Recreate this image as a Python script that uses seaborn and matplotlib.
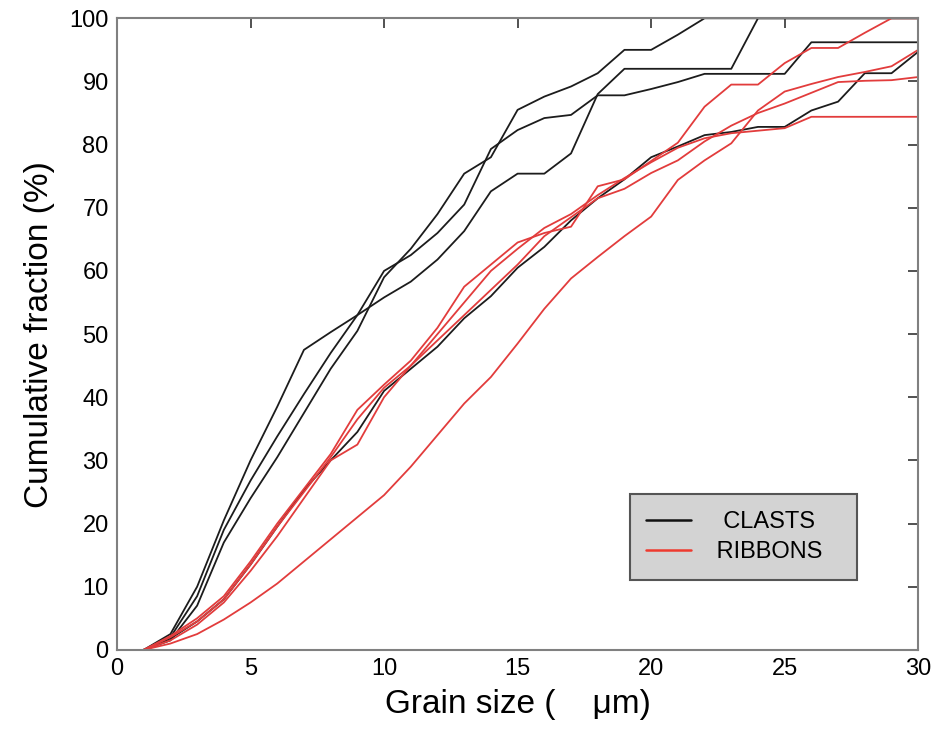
import numpy as np
import pandas as pd
import matplotlib
matplotlib.use("Agg")
import matplotlib.pyplot as plt
import seaborn as sns
from matplotlib.lines import Line2D

# ---- data ----
grain_size = list(range(1, 31))

clast_a = [0, 2.5, 10, 20.5, 30, 38.5, 47.5, 50.3, 53, 55.8, 58.3, 61.8, 66.3, 72.6, 75.4,
           75.4, 78.6, 88, 92, 92, 92, 92, 92, 100, 100, 100, 100, 100, 100, 100]
clast_b = [0, 2, 8.5, 19, 26.8, 33.8, 40.5, 47, 53, 60, 62.5, 66, 70.5, 79.3, 82.3,
           84.2, 84.7, 87.8, 87.8, 88.8, 89.9, 91.2, 91.2, 91.2, 91.2, 96.2, 96.2, 96.2, 96.2, 96.2]
clast_c = [0, 1.5, 7, 17, 24, 30.5, 37.5, 44.5, 50.5, 59, 63.5, 69, 75.4, 78, 85.5,
           87.6, 89.2, 91.3, 95, 95, 97.4, 100, 100, 100, 100, 100, 100, 100, 100, 100]
clast_d = [0, 1.8, 4.5, 8, 13.5, 19.5, 25.3, 30, 34.5, 41, 44.5, 48, 52.5, 56, 60.5,
           63.8, 68, 71.5, 74.5, 78, 79.7, 81.5, 82, 82.8, 82.8, 85.4, 86.8, 91.3, 91.3, 94.7]

ribbon_1 = [0, 2.2, 5, 8.5, 14, 20, 25.5, 31, 38, 42, 45.8, 51, 57.5, 61, 64.5,
            66, 67, 73.4, 74.5, 77.4, 80.3, 86, 89.5, 89.5, 92.9, 95.3, 95.3, 97.7, 100, 100]
ribbon_2 = [0, 1, 2.5, 4.8, 7.5, 10.5, 14, 17.5, 21, 24.5, 29, 34, 39, 43.2, 48.5,
            54, 58.8, 62.2, 65.5, 68.6, 74.4, 77.5, 80.2, 85.4, 88.4, 89.6, 90.7, 91.5, 92.4, 95]
ribbon_3 = [0, 2, 4.5, 8, 13.5, 19.5, 25, 30.5, 36.5, 41.5, 45, 49, 53, 57, 61,
            65.5, 68.5, 71.5, 73, 75.5, 77.5, 80.5, 83, 85, 86.5, 88.2, 89.9, 90.1, 90.2, 90.7]
ribbon_4 = [0, 1.5, 4, 7.5, 12.5, 18, 24, 30, 32.5, 40, 45, 50, 55, 60, 63.5,
            66.8, 69, 72, 74.7, 77.2, 79.5, 81, 81.8, 82.2, 82.6, 84.4, 84.4, 84.4, 84.4, 84.4]

series = {
    ("CLASTS", "c1"): clast_a, ("CLASTS", "c2"): clast_b,
    ("CLASTS", "c3"): clast_c, ("CLASTS", "c4"): clast_d,
    ("RIBBONS", "r1"): ribbon_1, ("RIBBONS", "r2"): ribbon_2,
    ("RIBBONS", "r3"): ribbon_3, ("RIBBONS", "r4"): ribbon_4,
}
rows = []
for (kind, name), vals in series.items():
    for xv, yv in zip(grain_size, vals):
        rows.append({"size": xv, "frac": yv, "kind": kind, "sample": name})
df = pd.DataFrame(rows)

sns.set_theme(style="white")
plt.rcParams["font.family"] = ["Liberation Sans Narrow", "Liberation Sans", "DejaVu Sans"]
plt.rcParams["text.color"] = "black"
plt.rcParams["axes.labelcolor"] = "black"
plt.rcParams["xtick.color"] = "#333333"
plt.rcParams["ytick.color"] = "#333333"

fig = plt.figure(figsize=(9.36, 7.31), dpi=100)
ax = fig.add_axes([0.125, 0.111, 0.856, 0.864])

colors = {"CLASTS": "#1c1c1c", "RIBBONS": "#e23c3c"}
for kind in ["CLASTS", "RIBBONS"]:
    sns.lineplot(data=df[df["kind"] == kind], x="size", y="frac", units="sample",
                 estimator=None, color=colors[kind], linewidth=1.3, ax=ax, legend=False)

ax.set_xlim(0, 30)
ax.set_ylim(0, 100)
ax.set_xticks(range(0, 31, 5))
ax.set_yticks(range(0, 101, 10))
ax.tick_params(direction="in", length=7, width=1.2, color="#333333",
               top=True, right=True, labelsize=17, pad=6, labelcolor="black")
for s in ax.spines.values():
    s.set_color("#808080")
    s.set_linewidth(1.5)
    s.set_visible(True)

ax.set_xlabel("Grain size (    \u03bcm)", fontsize=24, labelpad=6, color="black")
ax.set_ylabel("Cumulative fraction (%)", fontsize=24, labelpad=10, color="black")

handles = [Line2D([0], [0], color="#111111", lw=1.8),
           Line2D([0], [0], color="#ee3a2f", lw=1.8)]
leg = ax.legend(handles, ["  CLASTS", " RIBBONS"], loc="lower left",
                bbox_to_anchor=(0.640, 0.111, 0.283, 0.147), mode="expand",
                fontsize=17, frameon=True, fancybox=False, framealpha=1,
                facecolor="#d3d3d3", edgecolor="#555555", handlelength=1.9,
                handletextpad=0.8, borderpad=0.7, labelspacing=0.35, borderaxespad=0)
leg.get_frame().set_linewidth(1.5)
for t in leg.get_texts():
    t.set_color("black")

fig.savefig("out.png", dpi=100)
